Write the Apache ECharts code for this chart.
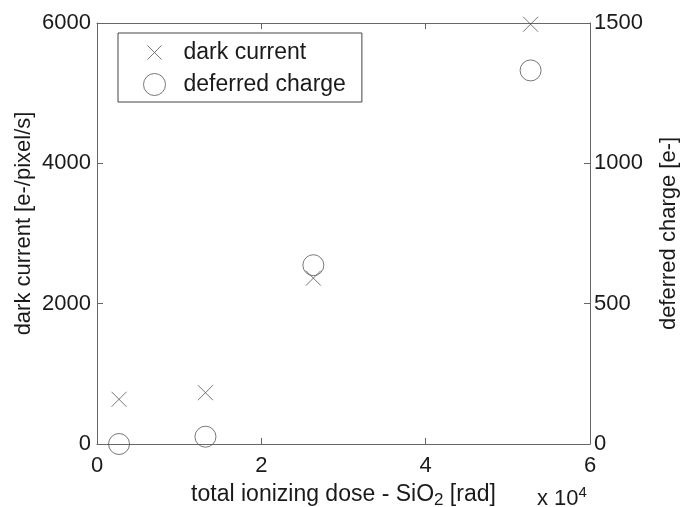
<!DOCTYPE html>
<html>
<head>
<meta charset="utf-8">
<script src="https://cdn.jsdelivr.net/npm/echarts@6/dist/echarts.min.js"></script>
<style>html,body{margin:0;padding:0;background:#fff}#c{width:680px;height:507px}</style>
</head>
<body>
<div id="c"></div>
<script>
var doseX = [0.268, 1.32, 2.633, 5.277];
var darkCurrent = [637, 731, 2364, 5982];
var deferredCharge = [0, 26, 637, 1331];
var xTicks = [0, 2, 4, 6];
var leftTicks = [0, 2000, 4000, 6000];
var rightTicks = [0, 500, 1000, 1500];

var FONT = 'Liberation Sans, Arial, sans-serif';
var AX = '#666';
var TXT = '#1a1a1a';
var crossPath = 'path://M0,0L10,10M10,0L0,10';
var crossLegend = 'path://M-4,-4L-4,-4M0,0L14,14M14,0L0,14M18,18L18,18';

var chart = echarts.init(document.getElementById('c'), null, {renderer: 'canvas'});
function plain(v) { return String(v); }
var baseAxis = {
  axisLine: {show: true, onZero: false, lineStyle: {color: AX, width: 1}},
  axisTick: {show: true, inside: true, length: 6, lineStyle: {color: AX}},
  splitLine: {show: false},
  axisLabel: {color: TXT, fontFamily: FONT, fontSize: 22, formatter: plain}
};
chart.setOption({
  animation: false,
  backgroundColor: '#fff',
  grid: {left: 97, right: 90, top: 23, bottom: 63, show: false, containLabel: false, outerBoundsMode: 'none'},
  legend: {
    orient: 'vertical', left: 118, top: 33,
    padding: [8, 16, 6, 25], itemGap: 9,
    itemWidth: 22, itemHeight: 22,
    borderColor: '#444', borderWidth: 1,
    textStyle: {color: TXT, fontFamily: FONT, fontSize: 23, lineHeight: 22, padding: [0, 0, 0, 13]},
    data: [
      {name: 'dark current', icon: crossLegend, itemStyle: {color: 'transparent', borderColor: '#555', borderWidth: 1}},
      {name: 'deferred charge', icon: 'circle', itemStyle: {color: 'transparent', borderColor: '#555', borderWidth: 1}}
    ]
  },
  xAxis: [
    Object.assign({}, baseAxis, {
      type: 'value', min: 0, max: 6, interval: 2, position: 'bottom',
      axisLabel: Object.assign({}, baseAxis.axisLabel, {margin: 11}),
      name: 'total ionizing dose - SiO{sub|2} [rad]', nameLocation: 'middle', nameGap: 37,
      nameMoveOverlap: false,
      nameTextStyle: {color: TXT, fontFamily: FONT, fontSize: 23, lineHeight: 28,
        rich: {sub: {fontFamily: FONT, fontSize: 17, color: TXT, lineHeight: 28, verticalAlign: 'bottom', padding: [18, 0, 0, 0]}}}
    }),
    Object.assign({}, baseAxis, {
      type: 'value', min: 0, max: 6, interval: 2, position: 'top',
      axisLabel: {show: false}
    })
  ],
  yAxis: [
    Object.assign({}, baseAxis, {
      type: 'value', min: 0, max: 6000, interval: 2000, position: 'left',
      axisLabel: Object.assign({}, baseAxis.axisLabel, {margin: 6}),
      name: 'dark current [e-/pixel/s]', nameLocation: 'middle', nameGap: 62,
      nameMoveOverlap: false,
      nameTextStyle: {color: TXT, fontFamily: FONT, fontSize: 22, padding: [0, 0, 0, 20]}
    }),
    Object.assign({}, baseAxis, {
      type: 'value', min: 0, max: 1500, interval: 500, position: 'right',
      axisLabel: Object.assign({}, baseAxis.axisLabel, {margin: 4}),
      name: 'deferred charge [e-]', nameLocation: 'middle', nameGap: 68, nameRotate: 90,
      nameMoveOverlap: false,
      nameTextStyle: {color: TXT, fontFamily: FONT, fontSize: 22}
    })
  ],
  graphic: [{
    type: 'text', left: 537, top: 485,
    style: {text: 'x 10{sup|4}', fill: TXT, font: '22px ' + FONT,
      rich: {sup: {fontSize: 15, fontFamily: FONT, fill: TXT, verticalAlign: 'top', padding: [0, 0, 12, 0]}}}
  }],
  series: [
    {
      name: 'dark current', type: 'scatter', xAxisIndex: 0, yAxisIndex: 0,
      symbol: crossPath, symbolSize: 15,
      itemStyle: {color: 'transparent', borderColor: '#555', borderWidth: 1},
      data: doseX.map(function (x, i) { return [x, darkCurrent[i]]; }),
      z: 3
    },
    {
      name: 'deferred charge', type: 'scatter', xAxisIndex: 0, yAxisIndex: 1,
      symbol: 'circle', symbolSize: 21,
      itemStyle: {color: 'transparent', borderColor: '#555', borderWidth: 1},
      data: doseX.map(function (x, i) { return [x, deferredCharge[i]]; }),
      z: 3
    }
  ]
});
</script>
</body>
</html>
